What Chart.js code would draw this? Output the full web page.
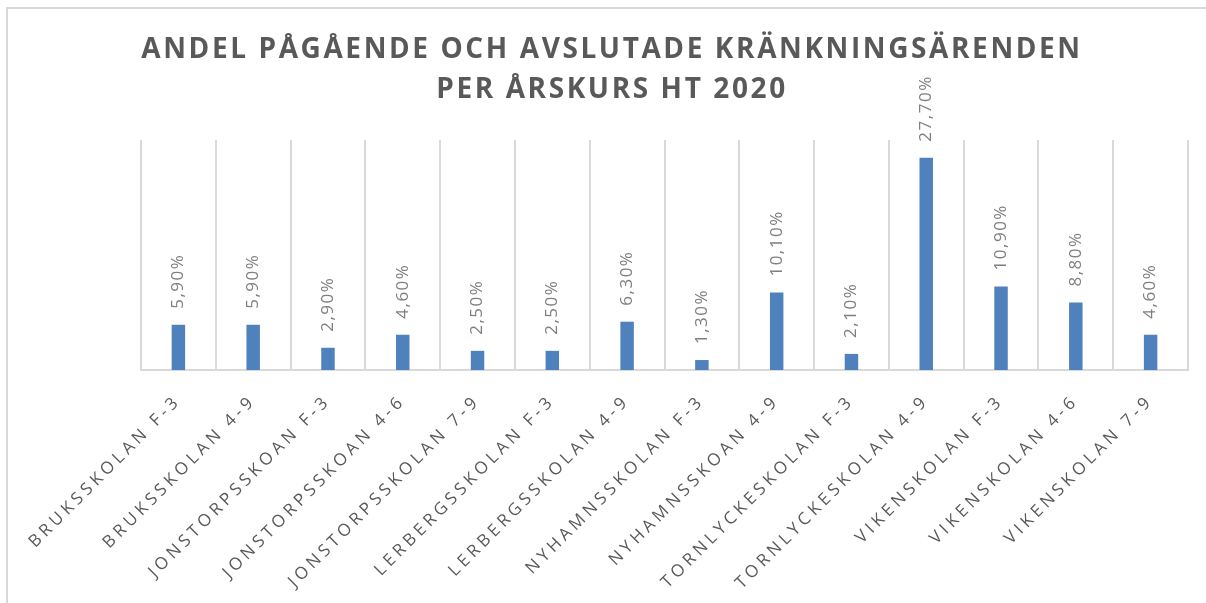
<!DOCTYPE html>
<html>
<head>
<meta charset="utf-8">
<script src="https://cdn.jsdelivr.net/npm/chart.js@4"></script>
<style>
    html, body { margin: 0; padding: 0; background: #ffffff; }
    #ram { position: absolute; left: 6px; top: 7px; width: 1300px; height: 700px;
           border-left: 2px solid #d9d9d9; border-top: 2px solid #d9d9d9; pointer-events: none; }
    #wrap { position: absolute; left: 0; top: 0; width: 1206px; height: 603px; }
</style>
</head>
<body>
<div id="ram"></div>
<div id="wrap"><canvas id="graficoAndel" width="1206" height="603"></canvas></div>
<script>
const titelRader = ['ANDEL PÅGÅENDE OCH AVSLUTADE KRÄNKNINGSÄRENDEN', 'PER ÅRSKURS HT 2020'];

const skolor = [
    'BRUKSSKOLAN F-3', 'BRUKSSKOLAN 4-9', 'JONSTORPSSKOAN F-3', 'JONSTORPSSKOAN 4-6',
    'JONSTORPSSKOLAN 7-9', 'LERBERGSSKOLAN F-3', 'LERBERGSSKOLAN 4-9', 'NYHAMNSSKOLAN F-3',
    'NYHAMNSSKOAN 4-9', 'TORNLYCKESKOLAN F-3', 'TORNLYCKESKOLAN 4-9', 'VIKENSKOLAN F-3',
    'VIKENSKOLAN 4-6', 'VIKENSKOLAN 7-9'
];
const andelar = [5.9, 5.9, 2.9, 4.6, 2.5, 2.5, 6.3, 1.3, 10.1, 2.1, 27.7, 10.9, 8.8, 4.6];

const formatera = v => v.toFixed(2).replace('.', ',') + '%';

// bokstavsavstånd på axeletiketterna
const mellanrum = {
    id: 'mellanrum',
    beforeInit: chart => { chart.ctx.letterSpacing = '4px'; },
    beforeDraw: chart => { chart.ctx.letterSpacing = '4px'; }
};

// värdeetiketter, roterade, ovanför staplarna
const etiketter = {
    id: 'etiketter',
    afterDatasetsDraw: chart => {
        const ctx = chart.ctx;
        const meta = chart.getDatasetMeta(0);
        ctx.save();
        ctx.letterSpacing = '1.5px';
        ctx.font = '17px "Open Sans"';
        ctx.fillStyle = '#7f7f7f';
        ctx.textAlign = 'left';
        ctx.textBaseline = 'middle';
        meta.data.forEach((bar, i) => {
            ctx.save();
            ctx.translate(bar.x, bar.y - 16);
            ctx.rotate(-Math.PI / 2);
            ctx.fillText(formatera(andelar[i]), 0, 0);
            ctx.restore();
        });
        ctx.restore();
    }
};

// rubrik
const rubrik = {
    id: 'rubrik',
    afterDraw: chart => {
        const ctx = chart.ctx;
        ctx.save();
        ctx.letterSpacing = '2.6px';
        ctx.font = 'bold 28px "Open Sans"';
        ctx.fillStyle = '#595959';
        ctx.textAlign = 'center';
        ctx.textBaseline = 'alphabetic';
        ctx.fillText(titelRader[0], 612, 58);
        ctx.fillText(titelRader[1], 612, 98);
        ctx.restore();
    }
};

const ctx = document.getElementById('graficoAndel').getContext('2d');

new Chart(ctx, {
    type: 'bar',
    data: {
        labels: skolor,
        datasets: [{
            label: 'Andel',
            data: andelar,
            backgroundColor: '#4f81bd',
            barPercentage: 0.18,
            categoryPercentage: 1
        }]
    },
    options: {
        responsive: false,
        animation: false,
        layout: { padding: { left: 141, right: 18, top: 140, bottom: 0 } },
        plugins: {
            legend: { display: false },
            title: { display: false },
            tooltip: { enabled: false }
        },
        scales: {
            x: {
                afterFit: scale => { scale.height = 233; },
                grid: { display: true, offset: true, color: '#d9d9d9', lineWidth: 2, drawTicks: false },
                border: { display: true, color: '#d9d9d9', width: 2 },
                ticks: {
                    autoSkip: false,
                    maxRotation: 45,
                    minRotation: 45,
                    padding: 21,
                    color: '#595959',
                    font: { family: '"Open Sans"', size: 17 }
                }
            },
            y: {
                display: false,
                min: 0,
                max: 30
            }
        }
    },
    plugins: [mellanrum, etiketter, rubrik]
});
</script>
</body>
</html>
